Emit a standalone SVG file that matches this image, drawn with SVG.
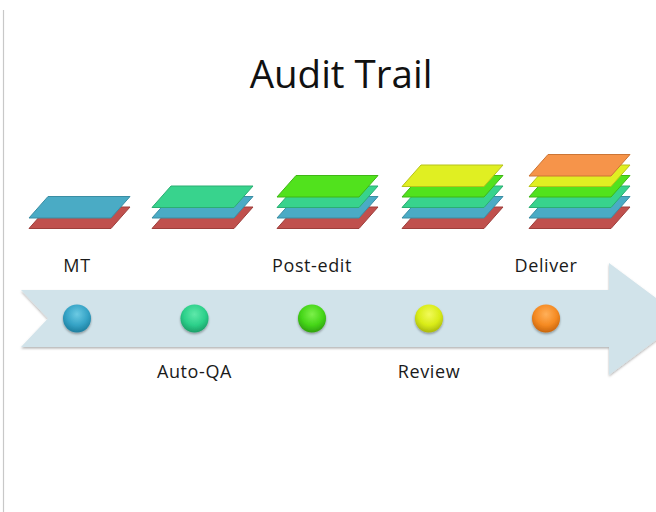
<svg xmlns="http://www.w3.org/2000/svg" xmlns:xlink="http://www.w3.org/1999/xlink" width="656" height="512" viewBox="0 0 656 512">
  <style>
    .title { font-family: "Open Sans", "Liberation Sans", sans-serif; font-size: 38.5px; fill: #111; }
    .label { font-family: "Open Sans", "Liberation Sans", sans-serif; font-size: 18px; letter-spacing: 0.6px; fill: #1a1a1a; text-anchor: middle; }
    .red    { fill: #C0504D; stroke: #9E3E3B; }
    .aqua   { fill: #4AABC5; stroke: #3A8DA3; }
    .sea    { fill: #38D38D; stroke: #2BAE73; }
    .lime   { fill: #51E21D; stroke: #3FB716; }
    .yellow { fill: #E0EF22; stroke: #B6C31A; }
    .orange { fill: #F6944A; stroke: #CC7535; }
    .sheet  { stroke-width: 1; stroke-linejoin: round; }
  </style>
  <defs>
    <!-- one flat sheet, bottom-left corner at the origin's left edge -->
    <path id="sheet" d="M19,0 L101,0 L82,21.5 L0,21.5 Z"/>
    <filter id="shadow" x="-5%" y="-10%" width="110%" height="130%">
      <feDropShadow dx="0" dy="1.5" stdDeviation="1" flood-color="#000" flood-opacity="0.3"/>
    </filter>
    <filter id="dotShadow" x="-30%" y="-30%" width="160%" height="170%">
      <feDropShadow dx="0" dy="1.5" stdDeviation="1.2" flood-color="#000" flood-opacity="0.35"/>
    </filter>
    <radialGradient id="gAqua" cx="50%" cy="35%" r="65%">
      <stop offset="0" stop-color="#6CCAE3"/><stop offset="0.6" stop-color="#35A3C6"/><stop offset="1" stop-color="#1E7E9E"/>
    </radialGradient>
    <radialGradient id="gSea" cx="50%" cy="35%" r="65%">
      <stop offset="0" stop-color="#5FE8AA"/><stop offset="0.6" stop-color="#2CD08A"/><stop offset="1" stop-color="#1C9E68"/>
    </radialGradient>
    <radialGradient id="gLime" cx="50%" cy="35%" r="65%">
      <stop offset="0" stop-color="#7CF04A"/><stop offset="0.6" stop-color="#45D618"/><stop offset="1" stop-color="#2FA00E"/>
    </radialGradient>
    <radialGradient id="gYellow" cx="50%" cy="35%" r="65%">
      <stop offset="0" stop-color="#F2FA5A"/><stop offset="0.6" stop-color="#D9EC17"/><stop offset="1" stop-color="#A9B80E"/>
    </radialGradient>
    <radialGradient id="gOrange" cx="50%" cy="35%" r="65%">
      <stop offset="0" stop-color="#FFB05A"/><stop offset="0.6" stop-color="#F58A22"/><stop offset="1" stop-color="#C8650E"/>
    </radialGradient>
  </defs>

  <rect width="656" height="512" fill="#ffffff"/>
  <line x1="3.5" y1="10" x2="3.5" y2="512" stroke="#c8c8c8" stroke-width="1.2"/>

  <text class="title" x="341" y="88" text-anchor="middle">Audit Trail</text>

  <!-- timeline arrow -->
  <g id="connectors">
    <path id="timeline" d="M21,290 L609,290 L609,263 L684,319 L609,375 L609,347 L21,347 L48,318.5 Z" fill="#D1E3EA" filter="url(#shadow)"/>
  </g>

  <!-- sheet stacks -->
  <g id="stack-mt" class="sheet">
    <use xlink:href="#sheet" x="29" y="207" class="red"/>
    <use xlink:href="#sheet" x="29" y="196.5" class="aqua"/>
  </g>
  <g id="stack-autoqa" class="sheet">
    <use xlink:href="#sheet" x="152" y="207" class="red"/>
    <use xlink:href="#sheet" x="152" y="196.5" class="aqua"/>
    <use xlink:href="#sheet" x="152" y="186" class="sea"/>
  </g>
  <g id="stack-postedit" class="sheet">
    <use xlink:href="#sheet" x="277" y="207" class="red"/>
    <use xlink:href="#sheet" x="277" y="196.5" class="aqua"/>
    <use xlink:href="#sheet" x="277" y="186" class="sea"/>
    <use xlink:href="#sheet" x="277" y="175.5" class="lime"/>
  </g>
  <g id="stack-review" class="sheet">
    <use xlink:href="#sheet" x="402" y="207" class="red"/>
    <use xlink:href="#sheet" x="402" y="196.5" class="aqua"/>
    <use xlink:href="#sheet" x="402" y="186" class="sea"/>
    <use xlink:href="#sheet" x="402" y="175.5" class="lime"/>
    <use xlink:href="#sheet" x="402" y="165" class="yellow"/>
  </g>
  <g id="stack-deliver" class="sheet">
    <use xlink:href="#sheet" x="529" y="207" class="red"/>
    <use xlink:href="#sheet" x="529" y="196.5" class="aqua"/>
    <use xlink:href="#sheet" x="529" y="186" class="sea"/>
    <use xlink:href="#sheet" x="529" y="175.5" class="lime"/>
    <use xlink:href="#sheet" x="529" y="165" class="yellow"/>
    <use xlink:href="#sheet" x="529" y="154.5" class="orange"/>
  </g>

  <!-- milestones -->
  <g id="node-mt">
    <circle cx="77" cy="318.5" r="14" fill="url(#gAqua)" filter="url(#dotShadow)"/>
    <text class="label" x="77" y="272">MT</text>
  </g>
  <g id="node-autoqa">
    <circle cx="194.5" cy="318.5" r="14" fill="url(#gSea)" filter="url(#dotShadow)"/>
    <text class="label" x="194.5" y="378">Auto-QA</text>
  </g>
  <g id="node-postedit">
    <circle cx="312" cy="318.5" r="14" fill="url(#gLime)" filter="url(#dotShadow)"/>
    <text class="label" x="312" y="272">Post-edit</text>
  </g>
  <g id="node-review">
    <circle cx="429" cy="318.5" r="14" fill="url(#gYellow)" filter="url(#dotShadow)"/>
    <text class="label" x="429" y="378">Review</text>
  </g>
  <g id="node-deliver">
    <circle cx="546" cy="318.5" r="14" fill="url(#gOrange)" filter="url(#dotShadow)"/>
    <text class="label" x="546" y="272">Deliver</text>
  </g>
</svg>
